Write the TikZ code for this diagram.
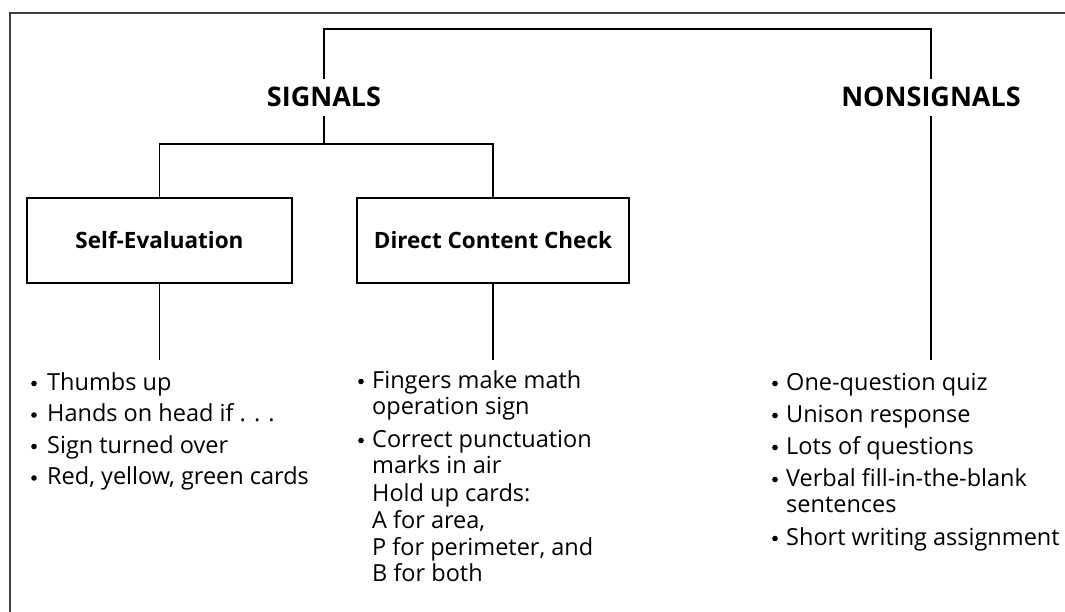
\documentclass[tikz,border=0pt]{standalone}
\usepackage{fontspec}
\setmainfont{Open Sans}
\begin{document}
\begin{tikzpicture}[x=1pt,y=-1pt,
  conn/.style={line width=1.7pt,black},
  frame/.style={line width=1.1pt,black!75},
  head/.style={font=\fontsize{27}{32}\selectfont\bfseries,text height=19pt,text depth=0pt,inner ysep=9pt,inner xsep=2pt,anchor=base},
  catbox/.style={draw,line width=1.7pt,minimum width=#1,minimum height=85pt,inner sep=0pt,font=\fontsize{22.5}{27}\selectfont\bfseries},
  item/.style={font=\fontsize{23.5}{28}\selectfont,anchor=base west,inner sep=0pt},
  dot/.style={fill=black}
]
\useasboundingbox (0,0) rectangle (1065,612);
% frame
\draw[frame] (10,612) -- (10,13) -- (1065,13);

% headings
\node[head] (sig) at (324,107) {SIGNALS};
\node[head] (non) at (931,107) {NONSIGNALS};
\coordinate (topy) at (0,29);
\draw[conn] (sig.north) |- (topy -| non.north) -- (non.north);

% category boxes
\node[catbox=265pt] (self) at (159.5,240.5) {Self-Evaluation};
\node[catbox=272pt] (dir) at (493,240.5) {Direct Content Check};
\coordinate (branch) at (0,144);
\draw[conn] (sig.south) -- (sig.south |- branch);
\draw[conn] (self.north) |- (dir.north |- branch) -- (dir.north);

% leaf connectors
\coordinate (leafS) at (159.5,360);
\coordinate (leafD) at (493,360);
\coordinate (leafN) at (931,360);
\draw[conn] (self.south) -- (leafS);
\draw[conn] (dir.south) -- (leafD);
\draw[conn] (non.south) -- (leafN);

% left column
\node[item] (s1) at (47,390) {Thumbs up};
\node[item] (s2) at (47,421.5) {Hands on head if . . .};
\node[item] (s3) at (47,453) {Sign turned over};
\node[item] (s4) at (47,484.5) {Red, yellow, green cards};
\foreach \y in {390,421.5,453,484.5} \fill[dot] (34,\y-6.5) circle (2.8pt);

% direct column
\node[item] (d1) at (372,388) {Fingers make math};
\node[item] (d2) at (372,414) {operation sign};
\node[item] (d3) at (372,447) {Correct punctuation};
\node[item] (d4) at (372,473) {marks in air};
\node[item] (d5) at (372,501) {Hold up cards:};
\node[item] (d6) at (372,528) {A for area,};
\node[item] (d7) at (372,555) {P for perimeter, and};
\node[item] (d8) at (372,581) {B for both};
\foreach \y in {388,447} \fill[dot] (361,\y-6.5) circle (2.8pt);

% nonsignals column
\node[item] (n1) at (786,390) {One-question quiz};
\node[item] (n2) at (786,422) {Unison response};
\node[item] (n3) at (786,454) {Lots of questions};
\node[item] (n4) at (786,486) {Verbal fill-in-the-blank};
\node[item] (n5) at (786,512) {sentences};
\node[item] (n6) at (786,545) {Short writing assignment};
\foreach \y in {390,422,454,486,545} \fill[dot] (775,\y-6.5) circle (2.8pt);
\end{tikzpicture}
\end{document}
